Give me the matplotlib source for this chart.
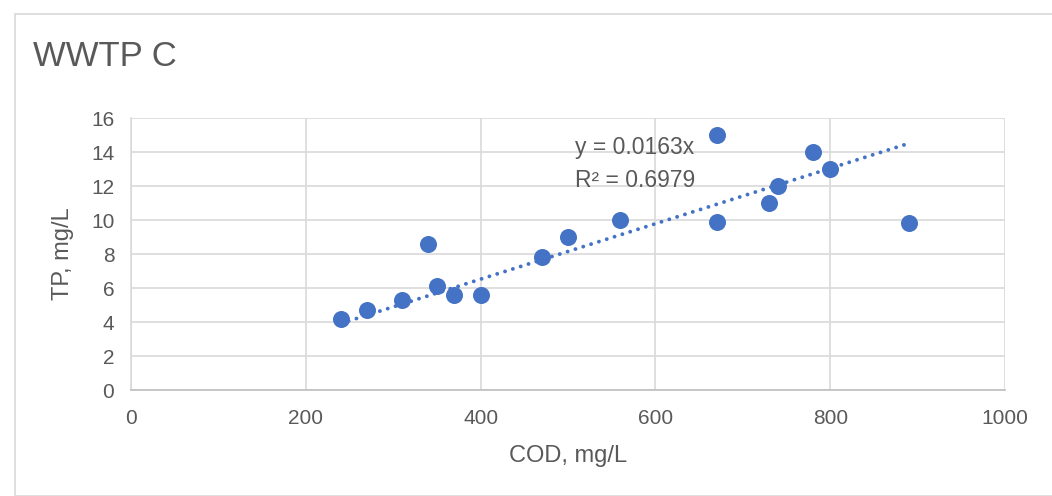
import matplotlib
matplotlib.use("Agg")
import matplotlib.pyplot as plt
from matplotlib.patches import Rectangle
import numpy as np

cod = [240, 270, 310, 340, 350, 370, 400, 470, 500, 560, 670, 670, 730, 740, 780, 800, 890]
tp = [4.2, 4.7, 5.3, 8.6, 6.1, 5.6, 5.6, 7.8, 9.0, 10.0, 15.0, 9.9, 11.0, 12.0, 14.0, 13.0, 9.8]
slope = 0.0163
r2 = 0.6979
x_ticks = [0, 200, 400, 600, 800, 1000]
y_ticks = [0, 2, 4, 6, 8, 10, 12, 14, 16]

W, H = 1052, 496
fig = plt.figure(figsize=(W / 100, H / 100), dpi=100)
plt.rcParams['font.family'] = ['Liberation Sans', 'DejaVu Sans']
txt = '#595959'
grid = '#d9d9d9'
blue = '#4472C4'

fig.patches.append(Rectangle((15 / W, 0), 1.2, 1 - 14 / H, transform=fig.transFigure,
                             fill=False, edgecolor='#d9d9d9', linewidth=1.2))

ax = fig.add_axes([131 / W, 1 - 390 / H, (1005 - 131) / W, (390 - 118) / H])
ax.set_xlim(0, 1000)
ax.set_ylim(0, 16)
ax.set_xticks(x_ticks)
ax.set_yticks(y_ticks)
ax.grid(True, color=grid, linewidth=1.2)
ax.set_axisbelow(True)
for s in ['top', 'right']:
    ax.spines[s].set_visible(False)
ax.spines['left'].set_color(grid)
ax.spines['left'].set_linewidth(1.2)
ax.spines['bottom'].set_color('#bfbfbf')
ax.spines['bottom'].set_linewidth(1.2)
ax.tick_params(axis='x', length=0, colors=txt, labelsize=15, pad=14)
ax.tick_params(axis='y', length=0, colors=txt, labelsize=15, pad=12)

xs = np.array([min(cod), max(cod)])
ax.plot(xs, slope * xs, linestyle=(0, (0.01, 2.1)), color=blue, linewidth=2.8,
        dash_capstyle='round', solid_capstyle='round', zorder=2)
ax.scatter(cod, tp, s=150, color=blue, zorder=3, linewidths=0)

ax.text(508, 13.3, 'y = 0.0163x\nR² = 0.6979', color=txt, fontsize=16.5,
        va='center', ha='left', linespacing=1.55)

ax.set_xlabel('COD, mg/L', color=txt, fontsize=17, labelpad=12)
ax.set_ylabel('TP, mg/L', color=txt, fontsize=17, labelpad=12)

fig.text(33 / W, 1 - 57 / H, 'WWTP C', color=txt, fontsize=25, va='center', ha='left')

fig.savefig('out.png', dpi=100)
